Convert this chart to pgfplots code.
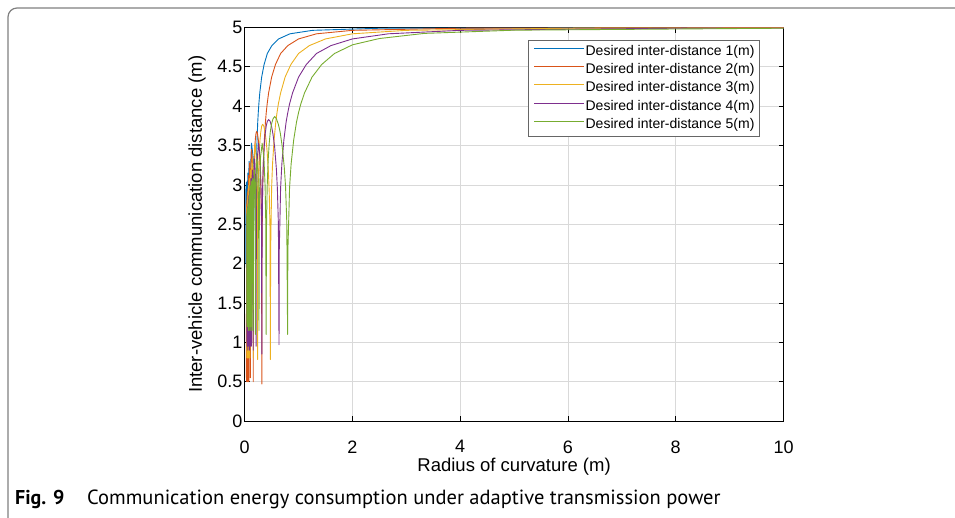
\documentclass[border=0pt]{standalone}
\usepackage{pgfplots}
\pgfplotsset{compat=1.18}
\usepackage{fontspec}
\setmainfont{Liberation Sans}
\newfontfamily\capfont{PT Sans}
\definecolor{mblue}{rgb}{0,0.447,0.741}
\definecolor{morange}{rgb}{0.85,0.325,0.098}
\definecolor{myellow}{rgb}{0.929,0.694,0.125}
\definecolor{mpurple}{rgb}{0.494,0.184,0.556}
\definecolor{mgreen}{rgb}{0.466,0.674,0.188}
\begin{document}
\begin{tikzpicture}
\useasboundingbox (0pt,0pt) rectangle (955pt,517pt);
\draw[black!50, line width=1.2pt, rounded corners=9pt] (8pt,-10pt) -- (8pt,509pt) -- (970pt,509pt);
\begin{axis}[
  scale only axis, width=538.8pt, height=393.5pt,
  at={(244.7pt,96pt)}, anchor=south west,
  xmin=0, xmax=10, ymin=0, ymax=5,
  xtick={0,2,...,10}, ytick={0,0.5,...,5},
  tick align=inside, major tick length=5pt,
  xtick pos=both, ytick pos=both,
  axis line style={black, line width=0.9pt},
  tick style={black, line width=0.8pt},
  grid=major, major grid style={gray!30, line width=0.8pt},
  /pgf/number format/assume math mode=true,
  tick label style={font=\fontsize{18}{18}\selectfont},
  yticklabel style={inner xsep=2pt},
  xticklabel style={yshift=-16pt},
  label style={font=\fontsize{18.5}{18.5}\selectfont},
  xlabel={Radius of curvature (m)},
  ylabel={Inter-vehicle communication distance (m)},
  xlabel style={at={(axis description cs:0.5,-0.117)}, anchor=center},
  ylabel style={at={(axis description cs:-0.0885,0.5)}, anchor=center},
  legend style={at={(0.5264,0.968)}, anchor=north west, draw=black!60, line width=0.8pt,
    font=\fontsize{14}{14}\selectfont, inner xsep=5pt, inner ysep=5pt,
    nodes={inner sep=0pt, text height=10pt, text depth=3pt},
    row sep=5.2pt, column sep=1pt},
  legend cell align=left,
  legend image code/.code={\draw[#1, line width=0.9pt] (0pt,3.5pt) -- (50pt,3.5pt);},
  every axis plot/.append style={line width=0.9pt, line join=round},
]
% blue
\addplot[mblue] coordinates {
(0.020,2.00) (0.0223,2.95) (0.025,2.00) (0.0267,3.00) (0.0286,1.95) (0.031,3.03) (0.0334,2.00)
(0.0366,3.00) (0.040,1.95) (0.0448,3.05) (0.050,2.00) (0.051,2.50) (0.0578,3.15) (0.065,2.50) (0.0667,1.95)
(0.068,2.50) (0.072,3.00) (0.0816,3.30) (0.090,3.10) (0.097,2.50) (0.100,2.00)
(0.1016,2.30) (0.105,2.80) (0.1145,3.30) (0.126,3.53) (0.140,3.45) (0.1575,3.35) (0.175,3.20) (0.191,2.80) (0.197,2.40) (0.200,1.95)
(0.202,2.15) (0.210,2.97) (0.217,3.27) (0.229,3.57) (0.242,3.80) (0.252,3.92) (0.263,4.03) (0.280,4.17) (0.315,4.37) (0.360,4.53)
(0.420,4.67) (0.504,4.77) (0.630,4.855) (0.840,4.92) (1.26,4.964) (2.52,4.991) (10,4.999)
};
% orange
\addplot[morange] coordinates {
(0.0318,0.55) (0.0335,2.75) (0.0354,0.50) (0.0375,2.80) (0.0398,0.55) (0.0424,2.85) (0.0455,0.50) (0.049,2.90) (0.0531,0.55) (0.0581,2.95) (0.0637,0.50)
(0.065,2.56) (0.068,3.00) (0.071,3.12) (0.075,3.00) (0.078,2.60) (0.0796,0.50)
(0.081,2.60) (0.086,3.15) (0.092,3.28) (0.098,3.12) (0.103,2.72) (0.106,0.55)
(0.109,2.66) (0.111,2.96) (0.118,3.30) (0.129,3.45) (0.143,3.30) (0.152,2.98) (0.156,2.53) (0.159,0.50)
(0.161,2.40) (0.167,2.97) (0.174,3.16) (0.182,3.37) (0.190,3.51) (0.200,3.60) (0.211,3.66) (0.223,3.68) (0.235,3.66) (0.250,3.59) (0.263,3.50) (0.278,3.34) (0.294,3.07) (0.303,2.84) (0.3125,2.41) (0.318,0.47)
(0.321,2.15) (0.333,2.97) (0.345,3.27) (0.364,3.57) (0.385,3.80) (0.400,3.92) (0.417,4.03) (0.444,4.17) (0.500,4.37) (0.571,4.53)
(0.667,4.67) (0.800,4.77) (1.000,4.855) (1.333,4.92) (2.0,4.964) (4.0,4.991) (10,4.999)
};
% yellow
\addplot[myellow] coordinates {
(0.0398,0.80) (0.0415,2.72) (0.0434,0.85) (0.0455,2.76) (0.0477,0.80) (0.0503,2.81) (0.0531,0.95) (0.0562,2.86) (0.0597,0.80) (0.0637,2.92) (0.0682,0.85) (0.0735,2.99) (0.0796,0.80)
(0.081,2.54) (0.083,2.91) (0.087,3.08) (0.091,2.93) (0.094,2.53) (0.0955,0.80)
(0.097,2.56) (0.101,3.04) (0.107,3.19) (0.112,3.06) (0.116,2.68) (0.119,1.00)
(0.122,2.60) (0.129,3.19) (0.138,3.33) (0.147,3.17) (0.155,2.72) (0.159,0.80)
(0.163,2.66) (0.167,2.96) (0.176,3.35) (0.194,3.53) (0.214,3.34) (0.227,2.98) (0.234,2.53) (0.239,0.78)
(0.242,2.40) (0.250,2.97) (0.261,3.24) (0.273,3.46) (0.286,3.59) (0.300,3.68) (0.316,3.75) (0.334,3.77) (0.353,3.75) (0.375,3.68) (0.395,3.58) (0.417,3.42) (0.441,3.15) (0.455,2.91) (0.469,2.47) (0.477,0.78)
(0.481,2.15) (0.500,2.97) (0.517,3.27) (0.545,3.57) (0.577,3.80) (0.600,3.92) (0.625,4.03) (0.667,4.17) (0.750,4.37) (0.857,4.53)
(1.000,4.67) (1.200,4.77) (1.500,4.855) (2.000,4.92) (3.0,4.964) (6.0,4.991) (10,4.997)
};
% purple
\addplot[mpurple] coordinates {
(0.0398,1.00) (0.0411,2.60) (0.0424,0.95) (0.0439,2.63) (0.0455,1.05) (0.0472,2.66) (0.0490,0.95) (0.0509,2.69) (0.0531,1.00) (0.0554,2.72) (0.0579,0.90) (0.0606,2.76) (0.0637,1.00) (0.0670,2.81) (0.0707,0.95) (0.0749,2.86) (0.0796,1.00) (0.0849,2.92) (0.0909,0.90) (0.0979,2.99) (0.106,0.95)
(0.108,2.54) (0.111,2.91) (0.116,3.08) (0.121,2.93) (0.125,2.53) (0.127,0.95)
(0.130,2.56) (0.135,3.04) (0.142,3.19) (0.149,3.06) (0.155,2.68) (0.159,0.90)
(0.163,2.60) (0.172,3.19) (0.183,3.33) (0.196,3.17) (0.206,2.72) (0.212,0.95)
(0.217,2.66) (0.222,2.96) (0.235,3.35) (0.259,3.53) (0.286,3.34) (0.303,2.98) (0.3125,2.53) (0.318,0.85)
(0.323,2.40) (0.333,2.97) (0.348,3.29) (0.364,3.50) (0.381,3.65) (0.400,3.75) (0.421,3.81) (0.445,3.83) (0.471,3.81) (0.500,3.74) (0.526,3.64) (0.556,3.48) (0.588,3.20) (0.606,2.96) (0.625,2.51) (0.637,0.97)
(0.641,2.15) (0.667,2.97) (0.690,3.27) (0.727,3.57) (0.769,3.80) (0.800,3.92) (0.833,4.03) (0.889,4.17) (1.000,4.37) (1.143,4.53)
(1.333,4.67) (1.600,4.77) (2.000,4.855) (2.667,4.92) (4.0,4.964) (8.0,4.991) (10,4.994)
};
% green
\addplot[mgreen] coordinates {
(0.0398,1.25) (0.0408,2.62) (0.0419,1.30) (0.0430,2.63) (0.0442,1.20) (0.0455,2.64) (0.0468,1.35) (0.0482,2.66) (0.0497,1.20) (0.0514,2.68) (0.0531,1.25) (0.0549,2.70) (0.0568,1.30) (0.0590,2.72) (0.0612,1.20) (0.0637,2.74) (0.0663,1.30) (0.0692,2.76) (0.0723,1.15) (0.0758,2.81) (0.0796,1.25) (0.0838,2.86) (0.0884,1.20) (0.0936,2.92) (0.0995,1.15) (0.1061,2.99) (0.1137,1.20) (0.1224,3.05) (0.1326,1.15)
(0.135,2.54) (0.139,2.91) (0.145,3.08) (0.152,2.93) (0.156,2.53) (0.159,1.15)
(0.162,2.56) (0.169,3.04) (0.178,3.19) (0.187,3.06) (0.194,2.68) (0.199,1.10)
(0.203,2.60) (0.216,3.19) (0.229,3.33) (0.245,3.17) (0.258,2.72) (0.265,1.15)
(0.272,2.66) (0.278,2.96) (0.294,3.35) (0.324,3.53) (0.357,3.34) (0.379,2.98) (0.391,2.53) (0.398,1.10)
(0.403,2.40) (0.417,2.97) (0.435,3.31) (0.455,3.53) (0.476,3.68) (0.500,3.78) (0.526,3.84) (0.557,3.87) (0.588,3.84) (0.625,3.77) (0.658,3.67) (0.694,3.50) (0.735,3.22) (0.758,2.98) (0.781,2.53) (0.796,1.10)
(0.801,2.15) (0.833,2.97) (0.862,3.27) (0.909,3.57) (0.962,3.80) (1.000,3.92) (1.042,4.03) (1.111,4.17) (1.250,4.37) (1.429,4.53)
(1.667,4.67) (2.000,4.78) (2.500,4.86) (3.333,4.925) (5.0,4.966) (10,4.991)
};
\legend{Desired inter-distance 1(m)\hspace{12pt},Desired inter-distance 2(m),Desired inter-distance 3(m),Desired inter-distance 4(m),Desired inter-distance 5(m)}
\end{axis}
\node[anchor=base west, inner sep=0pt, font=\capfont\bfseries\fontsize{20}{20}\selectfont] at (15pt,13pt) {Fig. 9};
\node[anchor=base west, inner sep=0pt, font=\capfont\fontsize{20.5}{20.5}\selectfont] at (87pt,13pt) {Communication energy consumption under adaptive transmission power};
\end{tikzpicture}
\end{document}
